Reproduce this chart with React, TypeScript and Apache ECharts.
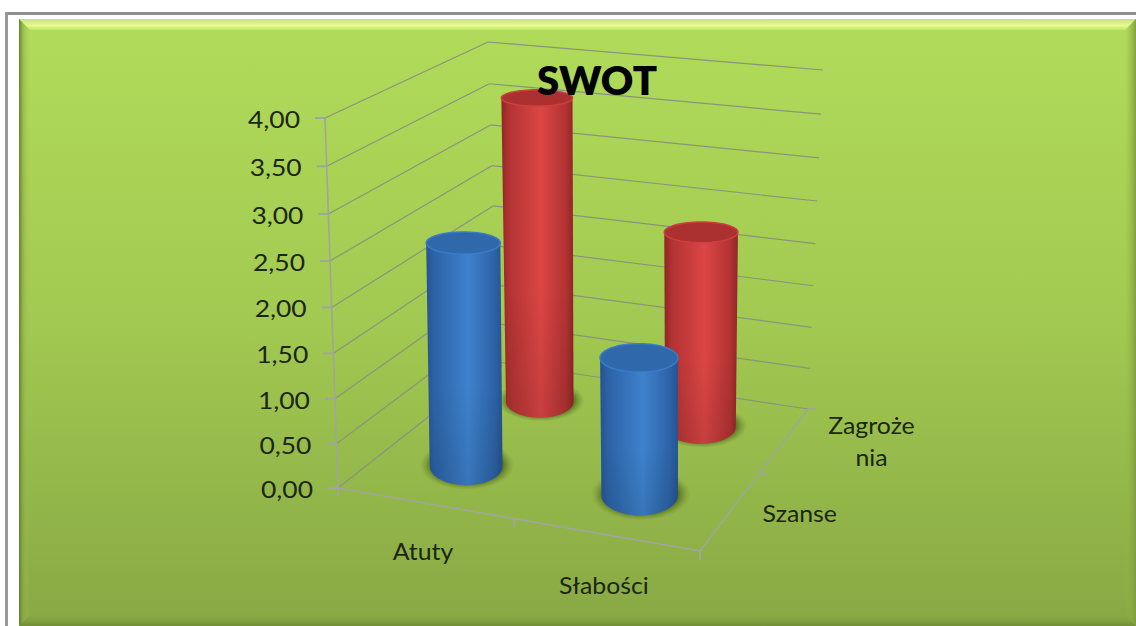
import React, { useEffect, useRef } from "react";
import * as echarts from "echarts";

const categories = ["Atuty", "Słabości"];
const depthLabels = ["Szanse", "Zagroże\nnia"];
const valueTicks = [0, 0.5, 1, 1.5, 2, 2.5, 3, 3.5, 4];
const tickLabels = ["0,00", "0,50", "1,00", "1,50", "2,00", "2,50", "3,00", "3,50", "4,00"];
const szanse = [2.52, 1.52];
const zagrozenia = [3.64, 2.3];

// Perspective of the 3D box: corners of the floor plane and of the plane at the axis maximum
const FLOOR = [[338, 488], [700, 551], [808, 409], [498, 362]];
const TOP = [[325, 118], [695, 155], [823, 70], [488, 42]];
const AXIS_MAX = 4;
const HEIGHT_FORESHORTEN = 0.05;
const RU = 0.215;
const RV_FLOOR = 0.27;
const RV_TOP = 0.21;
const U_SHIFT = -0.005;
const LEAN = 0.4;

function homography(quad: number[][]) {
  const [[x0, y0], [x1, y1], [x2, y2], [x3, y3]] = quad;
  const dx1 = x1 - x2, dx2 = x3 - x2, sx = x0 - x1 + x2 - x3;
  const dy1 = y1 - y2, dy2 = y3 - y2, sy = y0 - y1 + y2 - y3;
  const den = dx1 * dy2 - dx2 * dy1;
  const g = (sx * dy2 - dx2 * sy) / den;
  const h = (dx1 * sy - sx * dy1) / den;
  const a = x1 - x0 + g * x1, b = x3 - x0 + h * x3;
  const d = y1 - y0 + g * y1, e = y3 - y0 + h * y3;
  return (s: number, t: number) => {
    const q = g * s + h * t + 1;
    return [(a * s + b * t + x0) / q, (d * s + e * t + y0) / q];
  };
}
const floorAt = homography(FLOOR);
const topAt = homography(TOP);

function project(u: number, v: number, w: number): number[] {
  const f = floorAt(u / 2, v / 2);
  const p = topAt(u / 2, v / 2);
  const r = w / AXIS_MAX;
  const m = r / (1 + HEIGHT_FORESHORTEN * (1 - r));
  return [f[0] + (p[0] - f[0]) * m, f[1] + (p[1] - f[1]) * m];
}

// Hidden cartesian axes supply the scales; grid is 200x400 px so 100 px = one unit.
const G = { left: 0, top: 0, width: 200, height: 400 };
const toU = (px: number) => (px - G.left) / 100;
const toW = (py: number) => (G.top + G.height - py) / 100;

function ellipse(c: number[], rx: number, ry: number, n = 64): number[][] {
  const out: number[][] = [];
  for (let i = 0; i < n; i++) {
    const t = (i / n) * Math.PI * 2;
    out.push([c[0] + rx * Math.cos(t), c[1] + ry * Math.sin(t)]);
  }
  return out;
}

function hull(pts: number[][]): number[][] {
  const p = [...pts].sort((m, n) => m[0] - n[0] || m[1] - n[1]);
  const cross = (o: number[], m: number[], n: number[]) =>
    (m[0] - o[0]) * (n[1] - o[1]) - (m[1] - o[1]) * (n[0] - o[0]);
  const lo: number[][] = [];
  for (const q of p) {
    while (lo.length > 1 && cross(lo[lo.length - 2], lo[lo.length - 1], q) <= 0) lo.pop();
    lo.push(q);
  }
  const up: number[][] = [];
  for (const q of p.reverse()) {
    while (up.length > 1 && cross(up[up.length - 2], up[up.length - 1], q) <= 0) up.pop();
    up.push(q);
  }
  return lo.slice(0, -1).concat(up.slice(0, -1));
}

function cylinderItem(depth: number, colors: string[]) {
  return (_: any, api: any) => {
    const px = api.coord([api.value(0), api.value(1)]);
    const u = toU(px[0]) + U_SHIFT;
    const w = toW(px[1]);
    const v = depth + 0.5;
    const radii = (h0: number) => {
      const rv = RV_FLOOR + ((RV_TOP - RV_FLOOR) * Math.min(1, h0 / 2));
      const l = project(u - RU, v, h0), r = project(u + RU, v, h0);
      const f = project(u, v - rv, h0), n = project(u, v + rv, h0);
      return [Math.abs(r[0] - l[0]) / 2, Math.abs(f[1] - n[1]) / 2];
    };
    const cb = project(u, v, 0);
    const rawTop = project(u, v, w);
    const ct = [cb[0] + (rawTop[0] - cb[0]) * LEAN, rawTop[1]];
    const [rbx, rby] = radii(0);
    const [rtx, rty] = radii(w);
    const body = hull(ellipse(cb, rbx, rby).concat(ellipse(ct, rtx, rty)));
    return {
      type: "group",
      children: [
        {
          type: "polygon",
          shape: { points: ellipse([cb[0] + 1, cb[1] - 1], rbx * 1.3, rby * 1.3) },
          style: {
            fill: new echarts.graphic.RadialGradient(0.5, 0.5, 0.5, [
              { offset: 0, color: "rgba(72,92,20,0.95)" },
              { offset: 0.72, color: "rgba(72,92,20,0.9)" },
              { offset: 1, color: "rgba(110,140,50,0)" },
            ]),
          },
        },
        {
          type: "polygon",
          shape: { points: body },
          style: {
            fill: new echarts.graphic.LinearGradient(0, 0, 1, 0, [
              { offset: 0, color: colors[0] },
              { offset: 0.1, color: colors[1] },
              { offset: 0.55, color: colors[2] },
              { offset: 0.9, color: colors[1] },
              { offset: 1, color: colors[0] },
            ]),
          },
        },
        {
          type: "polygon",
          shape: { points: body },
          style: {
            fill: new echarts.graphic.LinearGradient(0, 0, 0, 1, [
              { offset: 0, color: "rgba(0,0,0,0)" },
              { offset: 0.6, color: "rgba(0,0,0,0)" },
              { offset: 1, color: "rgba(0,0,0,0.1)" },
            ]),
          },
        },
        {
          type: "polygon",
          shape: { points: ellipse(ct, rtx, rty) },
          style: { fill: colors[3], stroke: colors[4], lineWidth: 1.5 },
        },
      ],
    };
  };
}

const line = (p: number[], q: number[], stroke: string, lineWidth: number) => ({
  type: "line",
  shape: { x1: p[0], y1: p[1], x2: q[0], y2: q[1] },
  style: { stroke, lineWidth },
});

const GRID = "#8a947c";
const AXIS = "#9fa69a";
const TEXT_COLOR = "#1b2612";
const FONT = "Lato, sans-serif";

const label = (x: number, y: number, text: string, align: string, size: number, scaleX: number, extra: any = {}) => ({
  type: "text",
  x,
  y,
  scaleX,
  style: {
    legacy: false,
    text,
    align,
    verticalAlign: "middle",
    fill: TEXT_COLOR,
    font: `${size}px ${FONT}`,
    ...extra,
  },
});

function gridItem(params: any, api: any) {
  const w = toW(api.coord([0, api.value(1)])[1]);
  const a0 = project(0, 0, w), a1 = project(0, 2, w), a2 = project(2, 2, w);
  const tick = [a0[0] - 10, a0[1]];
  return {
    type: "group",
    children: [
      line(a0, a1, GRID, 1.2),
      line(a1, a2, GRID, 1.2),
      line(tick, a0, AXIS, 2),
      label(a0[0] - 25, a0[1] + 1, tickLabels[params.dataIndex], "right", 23, 1.15),
    ],
  };
}

function frontAxisItem(params: any, api: any) {
  const u = toU(api.coord([api.value(0), 0])[0]);
  const i = params.dataIndex;
  const base = project(u, 0, 0);
  const t = project(i + 1, 0, 0);
  return {
    type: "group",
    children: [
      line(t, [t[0], t[1] + 9], AXIS, 2),
      label(base[0] - 2, base[1] + (i === 0 ? 48 : 50), categories[i], "center", 23, 1.08),
    ],
  };
}

function depthAxisItem(params: any) {
  const i = params.dataIndex;
  const base = project(2, i + 0.5, 0);
  const t = project(2, i + 1, 0);
  return {
    type: "group",
    children: [
      line(t, [t[0] + 8, t[1]], AXIS, 2),
      label(base[0] + (i === 0 ? 69 : 87), base[1] + (i === 0 ? 2 : 0.5), depthLabels[i], "center", 23, 1.08, { lineHeight: 32 }),
    ],
  };
}

function frameItem() {
  const o = project(0, 0, 0), c1_ = project(2, 0, 0), c2_ = project(2, 2, 0), top = project(0, 0, 4);
  return {
    type: "group",
    children: [
      line(o, top, AXIS, 1.6),
      line(o, c1_, AXIS, 1.6),
      line(c1_, c2_, AXIS, 1.6),
      line(o, [o[0], o[1] + 8], AXIS, 2),
      line(c1_, [c1_[0], c1_[1] + 8], AXIS, 2),
    ],
  };
}

const W = 1136, H = 626;
const PANEL = { x: 19, y: 19, r: 1136, b: 626, bevel: 11 };

function background(): any[] {
  const { x, y, r, b, bevel } = PANEL;
  const grad = (x_: number, y_: number, x2: number, y2: number, stops: [number, string][]) =>
    new echarts.graphic.LinearGradient(x_, y_, x2, y2, stops.map(([offset, color]) => ({ offset, color })));
  return [
    { type: "rect", shape: { x: 0, y: 0, width: W, height: H }, style: { fill: "#ffffff" } },
    { type: "rect", shape: { x: 5, y: 12, width: W - 5, height: 3 }, style: { fill: "#8e8e8e" } },
    { type: "rect", shape: { x: 5, y: 12, width: 3, height: H - 12 }, style: { fill: "#999999" } },
    {
      type: "rect",
      shape: { x, y, width: r - x, height: b - y },
      style: { fill: grad(0, 0, 0, 1, [[0, "#b1dc5a"], [0.5, "#a2c951"], [1, "#88a844"]]) },
    },
    {
      type: "polygon",
      shape: { points: [[x, y], [r, y], [r - bevel, y + bevel], [x + bevel, y + bevel]] },
      style: { fill: grad(0, 0, 0, 1, [[0, "#c8e084"], [0.6, "#e6fb8e"], [1, "#bfe568"]]) },
    },
    {
      type: "polygon",
      shape: { points: [[x, y], [x + bevel, y + bevel], [x + bevel, b - bevel], [x, b]] },
      style: { fill: grad(0, 0, 1, 0, [[0, "rgba(95,125,45,0.95)"], [0.45, "rgba(140,175,70,0.5)"], [1, "rgba(160,200,80,0)"]]) },
    },
    {
      type: "polygon",
      shape: { points: [[r, y], [r, b], [r - bevel, b - bevel], [r - bevel, y + bevel]] },
      style: { fill: grad(0, 0, 1, 0, [[0, "rgba(150,185,75,0)"], [1, "rgba(125,155,60,0.9)"]]) },
    },
    {
      type: "polygon",
      shape: { points: [[x, b], [r, b], [r - bevel, b - bevel], [x + bevel, b - bevel]] },
      style: { fill: grad(0, 0, 0, 1, [[0, "rgba(130,160,62,0)"], [1, "rgba(112,140,52,0.95)"]]) },
    },
  ];
}

const BLUE = ["#255390", "#2c62a6", "#3e82cd", "#2f68ab", "#3a7cc8"];
const RED = ["#8f2626", "#b23232", "#dc4645", "#ab3131", "#cf3f3f"];

export default function App() {
  const ref = useRef<HTMLDivElement>(null);
  useEffect(() => {
    document.body.style.margin = "0";
    const chart = echarts.init(ref.current!, undefined, { renderer: "svg" });
    chart.setOption({
      animation: false,
      graphic: { elements: background() },
      title: {
        text: "SWOT",
        left: 592,
        top: 55,
        textAlign: "center",
        textStyle: { fontFamily: FONT, fontWeight: 800, fontSize: 40, color: "#000000" },
      },
      grid: G,
      xAxis: { type: "category", data: categories, show: false },
      yAxis: { type: "value", min: 0, max: AXIS_MAX, interval: 0.5, show: false },
      series: [
        { type: "custom", silent: true, renderItem: gridItem, data: valueTicks.map((t) => [0, t]), z: 2 },
        { type: "custom", silent: true, renderItem: frontAxisItem, data: categories.map((_, i) => [i, 0]), z: 2 },
        { type: "custom", silent: true, renderItem: depthAxisItem, data: depthLabels.map((_, i) => [1, i]), z: 2 },
        { type: "custom", silent: true, renderItem: frameItem, data: [[0, 0]], z: 2 },
        { type: "custom", silent: true, name: "Zagrożenia", renderItem: cylinderItem(1, RED), data: zagrozenia.map((v, i) => [i, v]), z: 3 },
        { type: "custom", silent: true, name: "Szanse", renderItem: cylinderItem(0, BLUE), data: szanse.map((v, i) => [i, v]), z: 4 },
      ],
    });
    return () => chart.dispose();
  }, []);
  return <div ref={ref} style={{ width: W, height: H }} />;
}
